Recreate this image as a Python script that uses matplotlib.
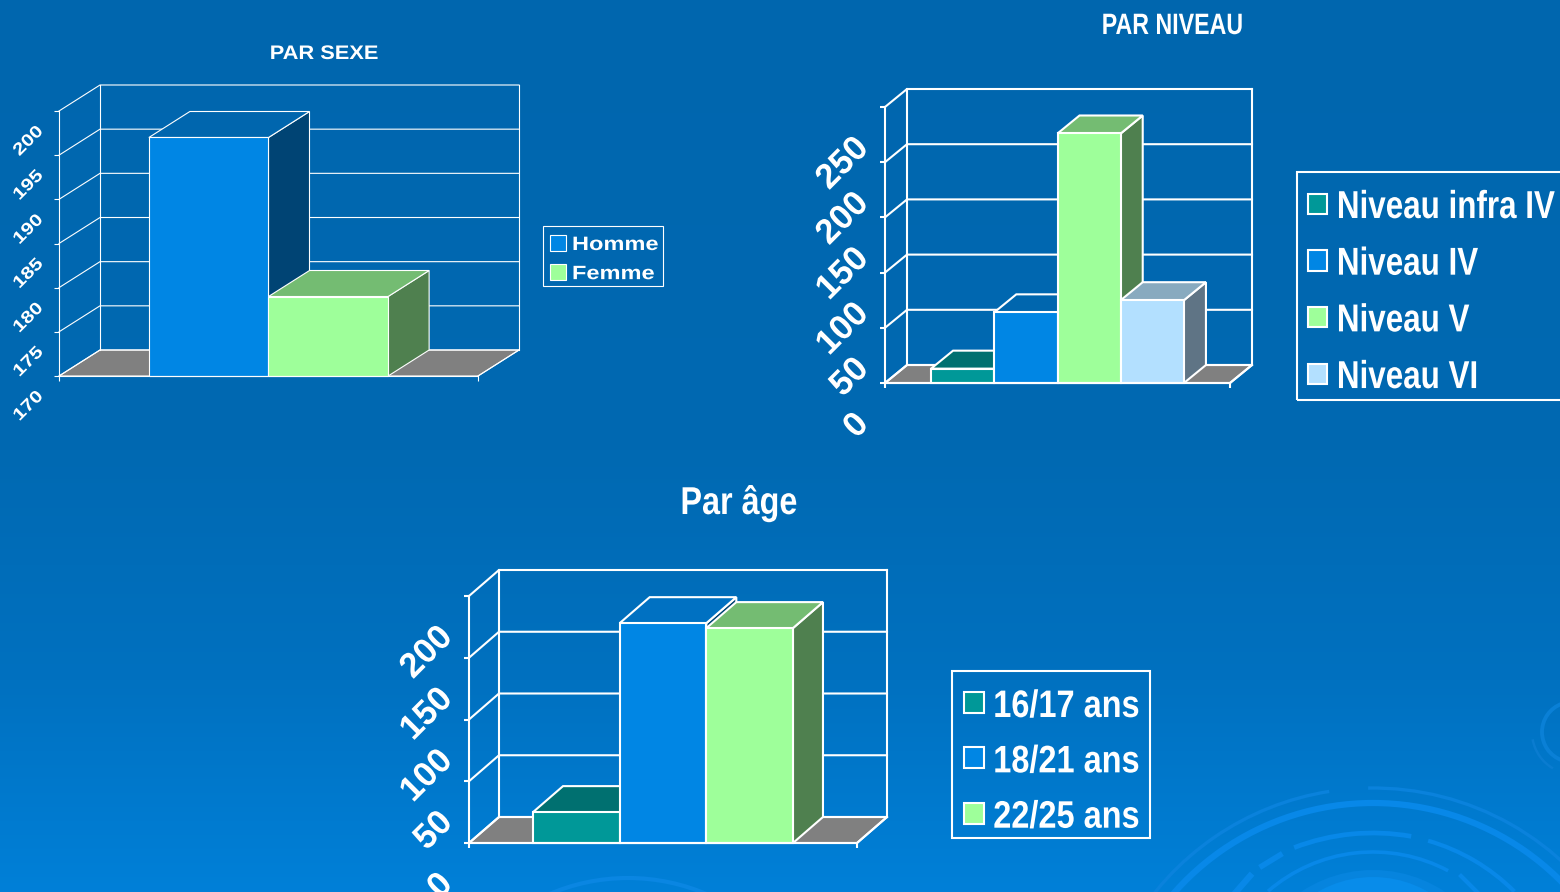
import numpy as np
import matplotlib
matplotlib.use("Agg")
import matplotlib.pyplot as plt
from matplotlib.patches import Arc, Circle, Patch, Polygon, Rectangle
from matplotlib.patheffects import AbstractPathEffect
from matplotlib.transforms import Affine2D, ScaledTranslation

# ---------- data ----------
sex_labels = ["Homme", "Femme"]
sex_values = [197, 179]
sex_ticks = [170, 175, 180, 185, 190, 195, 200]

level_labels = ["Niveau infra IV", "Niveau IV", "Niveau V", "Niveau VI"]
level_values = [13, 64, 226, 75]
level_ticks = [0, 50, 100, 150, 200, 250]

age_labels = ["16/17 ans", "18/21 ans", "22/25 ans"]
age_values = [25, 178, 174]
age_ticks = [0, 50, 100, 150, 200]

# ---------- colours: (front, top, side) ----------
TEAL = ("#009898", "#007070", "#007070")
BLUE = ("#0086E4", "#0066AE", "#004474")
BLUE_LOW = ("#0086E4", "#0071C2", "#004474")
GREEN = ("#9EFF9A", "#74BC72", "#4F804F")
PALE = ("#B3E0FF", "#88AABF", "#5F7485")
FLOOR = "#808080"
WHITE = "#FFFFFF"
FONT = "Liberation Sans"

W, H = 1560, 892
DPI = 100


class Stretch(AbstractPathEffect):
    """Scale glyphs vertically about the baseline, as the reference's squeezed text."""

    def __init__(self, sy, dy=0):
        super().__init__()
        self.sy = sy
        self.dy = dy

    def draw_path(self, renderer, gc, tpath, affine, rgbFace=None):
        renderer.draw_path(gc, tpath,
                           Affine2D().scale(1, self.sy) + affine + Affine2D().translate(0, self.dy),
                           rgbFace)


fig = plt.figure(figsize=(W / DPI, H / DPI), dpi=DPI)

# ---------- background ----------
bg = fig.add_axes([0, 0, 1, 1], zorder=0)
bg.set_xlim(0, W)
bg.set_ylim(0, H)
bg.axis("off")
rows = np.arange(H)
stops = [0, 450, 680, 891]
grad = np.stack([
    np.interp(rows, stops, [0, 0, 0, 0]),
    np.interp(rows, stops, [0x66, 0x69, 0x71, 0x80]),
    np.interp(rows, stops, [0xAE, 0xB2, 0xC0, 0xD8]),
], axis=1)[:, None, :] / 255
bg.imshow(grad, extent=(0, W, 0, H), origin="upper", aspect="auto", zorder=0)


def swirl(top_y, r, t1, t2, lw, color="#0888E8", cx=1373):
    cy = H - top_y - r
    bg.add_patch(Arc((cx, cy), 2 * r, 2 * r, theta1=t1, theta2=t2, lw=lw, color=color, zorder=2))


bg.add_patch(Circle((1373, H - 870 - 130), 130, color="#0684DE", lw=0, zorder=1))
bg.add_patch(Circle((1373, H - 877 - 110), 110, color="#088CEA", lw=0, zorder=1))
swirl(788, 280, 99, 150, 2.4, "#0A82DC")
swirl(788, 280, 30, 91, 2.4, "#0A82DC")
swirl(803, 265, 20, 160, 4.5)
swirl(833, 220, 80, 111, 3.4)
swirl(833, 200, 45, 74, 3.0)
swirl(852, 160, 62, 131, 2.6)
bg.plot([1262, 1280], [H - 866, H - 855], color="#0888E8", lw=4)
bg.plot([1236, 1250], [H - 892, H - 876], color="#0888E8", lw=4.5)
bg.plot([1461, 1477], [H - 876, H - 892], color="#0888E8", lw=3)
swirl(702, 30, 110, 250, 2.8, "#0A80D6", cx=1572)
swirl(690, 42, 190, 240, 1.8, "#0A7CD0", cx=1574)
swirl(878, 200, 66, 114, 3, "#0A86E2", cx=628)


def px_rect(x0, x1, y_top, y_base):
    return [x0 / W, 1 - y_base / H, (x1 - x0) / W, (y_base - y_top) / H]


def chart3d(rect_px, depth_px, values, ticks, colors, group_frac, lw, tick_size, tick_sy, tick_off):
    x0, x1, y_top, y_base = rect_px
    ax = fig.add_axes(px_rect(*rect_px), zorder=2)
    ax.patch.set_visible(False)
    ax.set_xlim(0, 1)
    ax.set_ylim(ticks[0], ticks[-1])
    ddx = depth_px[0] / (x1 - x0)
    ddy = depth_px[1] * (ticks[-1] - ticks[0]) / (y_base - y_top)
    lo, hi = ticks[0], ticks[-1]

    ax.add_patch(Polygon([(0, lo), (1, lo), (1 + ddx, lo + ddy), (ddx, lo + ddy)],
                         fc=FLOOR, ec=WHITE, lw=lw, clip_on=False, zorder=1))
    for t in ticks:
        ax.plot([0, ddx, 1 + ddx], [t, t + ddy, t + ddy], color=WHITE, lw=lw,
                clip_on=False, zorder=2, solid_joinstyle="miter")
    ax.plot([ddx, ddx], [lo + ddy, hi + ddy], color=WHITE, lw=lw, clip_on=False, zorder=2)
    ax.plot([1 + ddx, 1 + ddx], [lo + ddy, hi + ddy], color=WHITE, lw=lw, clip_on=False, zorder=2)
    ax.plot([1, 1 + ddx], [lo, lo + ddy], color=WHITE, lw=lw, clip_on=False, zorder=2)

    n = len(values)
    bw = group_frac / n
    start = (1 - group_frac) / 2
    z = 3
    for i, (v, c) in enumerate(zip(values, colors)):
        xl = start + i * bw
        xr = xl + bw
        ax.add_patch(Polygon([(xr, lo), (xr, v), (xr + ddx, v + ddy), (xr + ddx, lo + ddy)],
                             fc=c[2], ec=WHITE, lw=lw, clip_on=False, zorder=z,
                             joinstyle="miter"))
        ax.add_patch(Polygon([(xl, v), (xr, v), (xr + ddx, v + ddy), (xl + ddx, v + ddy)],
                             fc=c[1], ec=WHITE, lw=lw, clip_on=False, zorder=z,
                             joinstyle="miter"))
        ax.bar(xl, v - lo, bottom=lo, width=bw, align="edge", color=c[0], edgecolor=WHITE,
               linewidth=lw, clip_on=False, zorder=z + 0.5)
        z += 1

    for s in ("top", "right"):
        ax.spines[s].set_visible(False)
    for s in ("left", "bottom"):
        ax.spines[s].set_color(WHITE)
        ax.spines[s].set_linewidth(lw)
        ax.spines[s].set_zorder(20)
    ax.set_xticks([0, 1], ["", ""])
    ax.set_yticks(ticks, [str(t) for t in ticks])
    ax.tick_params(axis="both", color=WHITE, width=lw, length=3.5, pad=0)
    off = ScaledTranslation((tick_off[0] + 5) / DPI, -tick_off[1] / DPI, fig.dpi_scale_trans)
    for lab in ax.get_yticklabels():
        lab.set(rotation=45, rotation_mode="anchor", ha="right", va="center",
                color=WHITE, fontweight="bold", family=FONT, fontsize=tick_size,
                path_effects=[Stretch(tick_sy)])
        lab.set_transform(lab.get_transform() + off)
    return ax


def add_legend(ax, labels, colors, box_px, left, top, size, sy, dy, hlen, hh, spacing, lw, textpad):
    bx0, by0, bx1, by1 = box_px
    fig.add_artist(Rectangle((bx0 / W, 1 - by1 / H), (bx1 - bx0) / W, (by1 - by0) / H,
                             transform=fig.transFigure, fc="none", ec=WHITE, lw=lw, zorder=3))
    handles = [Patch(facecolor=c[0], edgecolor=WHITE, linewidth=lw) for c in colors]
    leg = ax.legend(handles, labels, loc="upper left",
                    bbox_to_anchor=(left / W, 1 - top / H), bbox_transform=fig.transFigure,
                    borderaxespad=0, frameon=False, handlelength=hlen, handleheight=hh,
                    labelspacing=spacing, borderpad=0, handletextpad=textpad,
                    prop={"family": FONT, "weight": "bold", "size": size})
    leg.set_zorder(30)
    for t in leg.get_texts():
        t.set_color(WHITE)
        t.set_path_effects([Stretch(sy, dy)])
    return leg


def title(x, baseline, text, size, sy):
    fig.text(x / W, 1 - baseline / H, text, color=WHITE, fontweight="bold", family=FONT,
             fontsize=size, ha="center", va="baseline", zorder=5, path_effects=[Stretch(sy)])


# ---------- PAR SEXE ----------
ax1 = chart3d((59, 478, 111, 376), (41, 26), sex_values, sex_ticks, [BLUE, GREEN],
              0.571, 0.8, 15, 0.82, (-19, 17))
add_legend(ax1, sex_labels, [BLUE, GREEN], (543, 226, 663, 286), 550, 233, 17, 0.82, 1,
           0.66, 0.66, 0.26, 0.8, 0.27)
title(324, 59, "PAR SEXE", 15.7, 0.9)

# ---------- PAR NIVEAU ----------
ax2 = chart3d((885, 1230, 107, 383), (22, 18), level_values, level_ticks,
              [TEAL, BLUE, GREEN, PALE], 0.733, 1.5, 25, 1.0, (-22, 36))
add_legend(ax2, level_labels, [TEAL, BLUE, GREEN, PALE], (1297, 172, 1575, 400), 1308, 192,
           22.6, 1.24, -3, 0.62, 0.62, 0.85, 1.5, 0.3)
title(1172, 34, "PAR NIVEAU", 16.7, 1.27)

# ---------- Par âge ----------
ax3 = chart3d((469, 857, 596, 843), (30, 26), age_values, age_ticks, [TEAL, BLUE_LOW, GREEN],
              0.67, 1.5, 25, 1.0, (-22, 36))
add_legend(ax3, age_labels, [TEAL, BLUE_LOW, GREEN], (952, 671, 1150, 838), 964, 691,
           23.4, 1.18, -3, 0.6, 0.62, 0.78, 1.5, 0.3)
title(739, 514, "Par âge", 23.3, 1.2)

fig.savefig("out.png", dpi=DPI)
